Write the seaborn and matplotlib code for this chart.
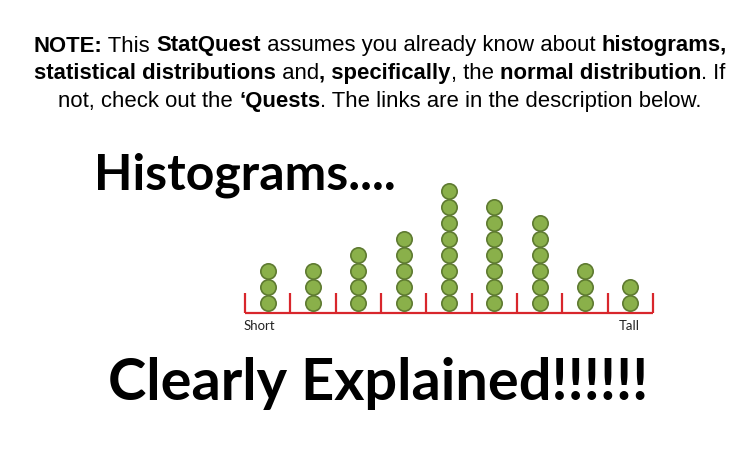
import matplotlib
matplotlib.use("Agg")
import matplotlib.pyplot as plt
import pandas as pd
import seaborn as sns

# dot counts per bin, from short to tall
bin_counts = [3, 3, 4, 5, 8, 7, 6, 3, 2]
axis_labels = ["Short", "Tall"]

note_lines = [
    [("NOTE:", True), (" This ", False), ("StatQuest", True),
     (" assumes you already know about ", False), ("histograms,", True)],
    [("statistical distributions", True), (" and", False), (", specifically", True),
     (", the ", False), ("normal distribution", True), (". If", False)],
    [("not, check out the ", False), ("\u2018Quests", True),
     (". The links are in the description below.", False)],
]
title_top = "Histograms...."
title_bottom = "Clearly Explained!!!!!!"

W, H = 753, 463
GREEN = "#8ab04a"
GREEN_EDGE = "#5e7a31"
RED = "#d8262c"

sns.set_theme(style="white")
plt.rcParams["font.family"] = ["Liberation Sans", "DejaVu Sans"]

fig = plt.figure(figsize=(W / 100, H / 100), dpi=100)
renderer = fig.canvas.get_renderer()


def px(x, y):
    return x / W, 1 - y / H


def rich_line(segments, cx, base_y, size):
    # measure every piece, then lay them out centred on cx
    widths = []
    for txt, bold in segments:
        t = fig.text(0, 0, txt, fontsize=size, fontweight="bold" if bold else "normal")
        widths.append(t.get_window_extent(renderer).width)
        t.remove()
    x = cx - sum(widths) / 2
    for (txt, bold), w in zip(segments, widths):
        fig.text(*px(x, base_y), txt, fontsize=size, va="baseline", ha="left",
                 fontweight="bold" if bold else "normal", color="black")
        x += w


for i, seg in enumerate(note_lines):
    rich_line(seg, 380, 51.5 + i * 27.8, 15.9)

fig.text(*px(245, 190), title_top, fontsize=36, fontweight="bold",
         family=["Lato", "DejaVu Sans"], ha="center", va="baseline", color="black")
fig.text(*px(378, 400), title_bottom, fontsize=41.6, fontweight="bold",
         family=["Lato", "DejaVu Sans"], ha="center", va="baseline", color="black")

# dot histogram
rows = []
for i, n in enumerate(bin_counts):
    for j in range(n):
        rows.append({"bin": i + 0.5, "level": j})
df = pd.DataFrame(rows)
df["y"] = df["level"] + 0.625

left, right, base = 245, 653, 313
unit = 16
ax = fig.add_axes([left / W, (H - base) / H, (right - left) / W, 8 * unit / H])
sns.scatterplot(data=df, x="bin", y="y", ax=ax, s=122, color=GREEN,
                edgecolor=GREEN_EDGE, linewidth=1.2, clip_on=False, zorder=3)
n_bins = len(bin_counts)
ax.plot([0, n_bins], [0, 0], color=RED, lw=1.6, clip_on=False, solid_capstyle="butt")
ax.vlines(range(n_bins + 1), 0, 1.25, color=RED, lw=1.6, clip_on=False)
ax.set_xlim(0, n_bins)
ax.set_ylim(0, 8)
ax.axis("off")

fig.text(*px(244, 326), axis_labels[0], fontsize=9.5, family=["Lato", "DejaVu Sans"],
         ha="left", va="center", color="#222222")
fig.text(*px(629, 326), axis_labels[1], fontsize=9.5, family=["Lato", "DejaVu Sans"],
         ha="center", va="center", color="#222222")

fig.savefig("out.png", dpi=100, facecolor="white")
